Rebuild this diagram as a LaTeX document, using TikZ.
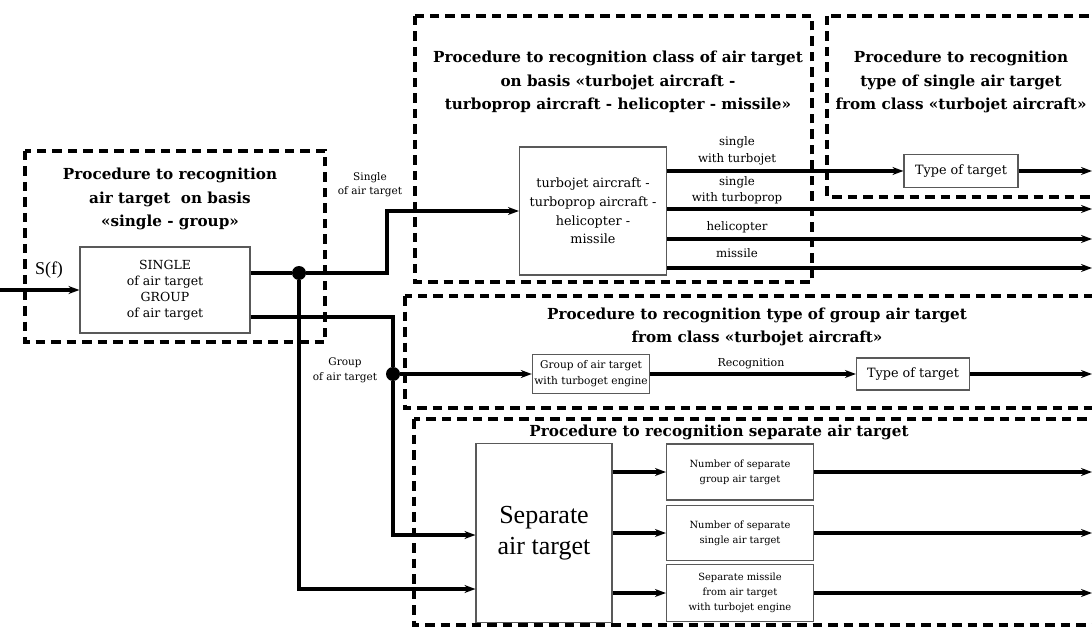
\documentclass[tikz,border=0pt]{standalone}
\usepackage{fontspec}
\setmainfont{DejaVu Serif}
\newfontfamily\timesfont{Liberation Serif}
\usepackage{tikz}
\usetikzlibrary{arrows.meta}
\tikzset{
    proc-box/.style = {draw, line width=3.2pt, dash pattern=on 9.5pt off 6pt},
    proc-title/.style = {align=center, font=\bfseries\fontsize{15.2}{23.5}\selectfont},
    block/.style = {draw=black!65, line width=1.1pt, fill=white, align=center, inner sep=2pt},
    block-text/.style = {font=\fontsize{12.8}{18.7}\selectfont},
    small-text/.style = {font=\fontsize{9.9}{15}\selectfont, align=center},
    label-text/.style = {font=\fontsize{11.8}{16.5}\selectfont, align=center},
    flow/.style = {line width=3.2pt, -{Stealth[length=11pt,width=8pt]}},
    wire/.style = {line width=3.2pt},
    junction/.style = {circle, fill=black, inner sep=0pt, minimum size=14pt},
}

\begin{document}
\begin{tikzpicture}[x=1pt, y=-1pt]
\useasboundingbox (0,0) rectangle (1092,628);
% procedure frames
\draw[proc-box] (25,151) rectangle (325,342);
\draw[proc-box] (415,16) rectangle (812,282);
\draw[proc-box] (827,16) rectangle (1110,197);
\draw[proc-box] (405,296) rectangle (1110,408);
\draw[proc-box] (414,419) rectangle (1110,625);
\node[proc-title] (titleA) at (170,199) {Procedure to recognition\\air target\ \ on basis\\«single - group»};
\node[proc-title] (titleB) at (618,82) {Procedure to recognition class of air target\\on basis «turbojet aircraft -\\turboprop aircraft - helicopter - missile»};
\node[proc-title] (titleC) at (961,82) {Procedure to recognition\\type of single air target\\from class «turbojet aircraft»};
\node[proc-title] (titleD) at (757,327) {Procedure to recognition type of group air target\\from class «turbojet aircraft»};
\node[proc-title] (titleE) at (719,432) {Procedure to recognition separate air target};

% blocks
\node[block, font=\fontsize{12.5}{16}\selectfont, minimum width=170pt, minimum height=86pt] (sg) at (165,290) {SINGLE\\of air target\\GROUP\\of air target};
\node[block, block-text, minimum width=147pt, minimum height=128pt] (cls) at (593,211) {turbojet aircraft -\\turboprop aircraft -\\helicopter -\\missile};
\node[block, block-text, minimum width=114pt, minimum height=33pt] (type1) at (961,171) {Type of target};
\node[block, font=\fontsize{10.6}{16}\selectfont, minimum width=116pt, minimum height=39pt] (grp) at (591,374) {Group of air target\\with turboget engine};
\node[block, block-text, minimum width=113pt, minimum height=32pt] (type2) at (913,374) {Type of target};
\node[block, font=\timesfont\fontsize{26}{31}\selectfont, minimum width=136pt, minimum height=179pt] (sep) at (544,533) {Separate\\air target};
\node[block, small-text, minimum width=147pt, minimum height=56pt] (num1) at (740,472) {Number of separate\\group air target};
\node[block, small-text, minimum width=147pt, minimum height=55pt] (num2) at (740,533) {Number of separate\\single air target};
\node[block, small-text, minimum width=147pt, minimum height=57pt] (num3) at (740,593) {Separate missile\\from air target\\with turbojet engine};

% junctions and free ends
\node[junction] (j1) at (299,273) {};
\node[junction] (j2) at (393,374) {};
\coordinate (sf) at (0,290);
\coordinate (o1) at (1092,171);
\coordinate (o2) at (1092,209);
\coordinate (o3) at (1092,239);
\coordinate (o4) at (1092,268);
\coordinate (o5) at (1092,374);
\coordinate (o6) at (1092,472);
\coordinate (o7) at (1092,533);
\coordinate (o8) at (1092,593);

% connectors
\draw[flow] (sf) -- (sg.west);
\node[font=\timesfont\fontsize{18}{18}\selectfont] (sflabel) at (49,270) {S(f)};
\draw[wire] (sg.east |- j1) -- (j1);
\draw[flow] (j1) -- (387,273) |- (cls.west);
\draw[wire] (sg.east |- 0,317) -- (393,317) -- (j2);
\draw[flow] (j2) -- (grp.west);
\draw[flow] (j2) |- (sep.west |- 0,535);
\draw[flow] (j1) |- (sep.west |- 0,589);
\node[label-text, font=\fontsize{10.5}{14}\selectfont] (lsingle) at (370,185) {Single\\of air target};
\node[label-text, font=\fontsize{10.5}{15}\selectfont] (lgroup) at (345,370) {Group\\of air target};

\draw[flow] (cls.east |- type1) -- (type1.west);
\draw[flow] (type1.east) -- (o1);
\draw[flow] (cls.east |- o2) -- (o2);
\draw[flow] (cls.east |- o3) -- (o3);
\draw[flow] (cls.east |- o4) -- (o4);
\node[label-text] (lturbojet) at (737,151) {single\\with turbojet};
\node[label-text] (lturboprop) at (737,190) {single\\with turboprop};
\node[label-text] (lheli) at (737,227) {helicopter};
\node[label-text] (lmissile) at (737,253) {missile};

\draw[flow] (grp.east) -- (type2.west);
\node[label-text, font=\fontsize{11}{11}\selectfont] (lrec) at (751,364) {Recognition};
\draw[flow] (type2.east) -- (o5);

\draw[flow] (sep.east |- num1) -- (num1.west);
\draw[flow] (sep.east |- num2) -- (num2.west);
\draw[flow] (sep.east |- num3) -- (num3.west);
\draw[flow] (num1.east) -- (o6);
\draw[flow] (num2.east) -- (o7);
\draw[flow] (num3.east) -- (o8);
\end{tikzpicture}
\end{document}
